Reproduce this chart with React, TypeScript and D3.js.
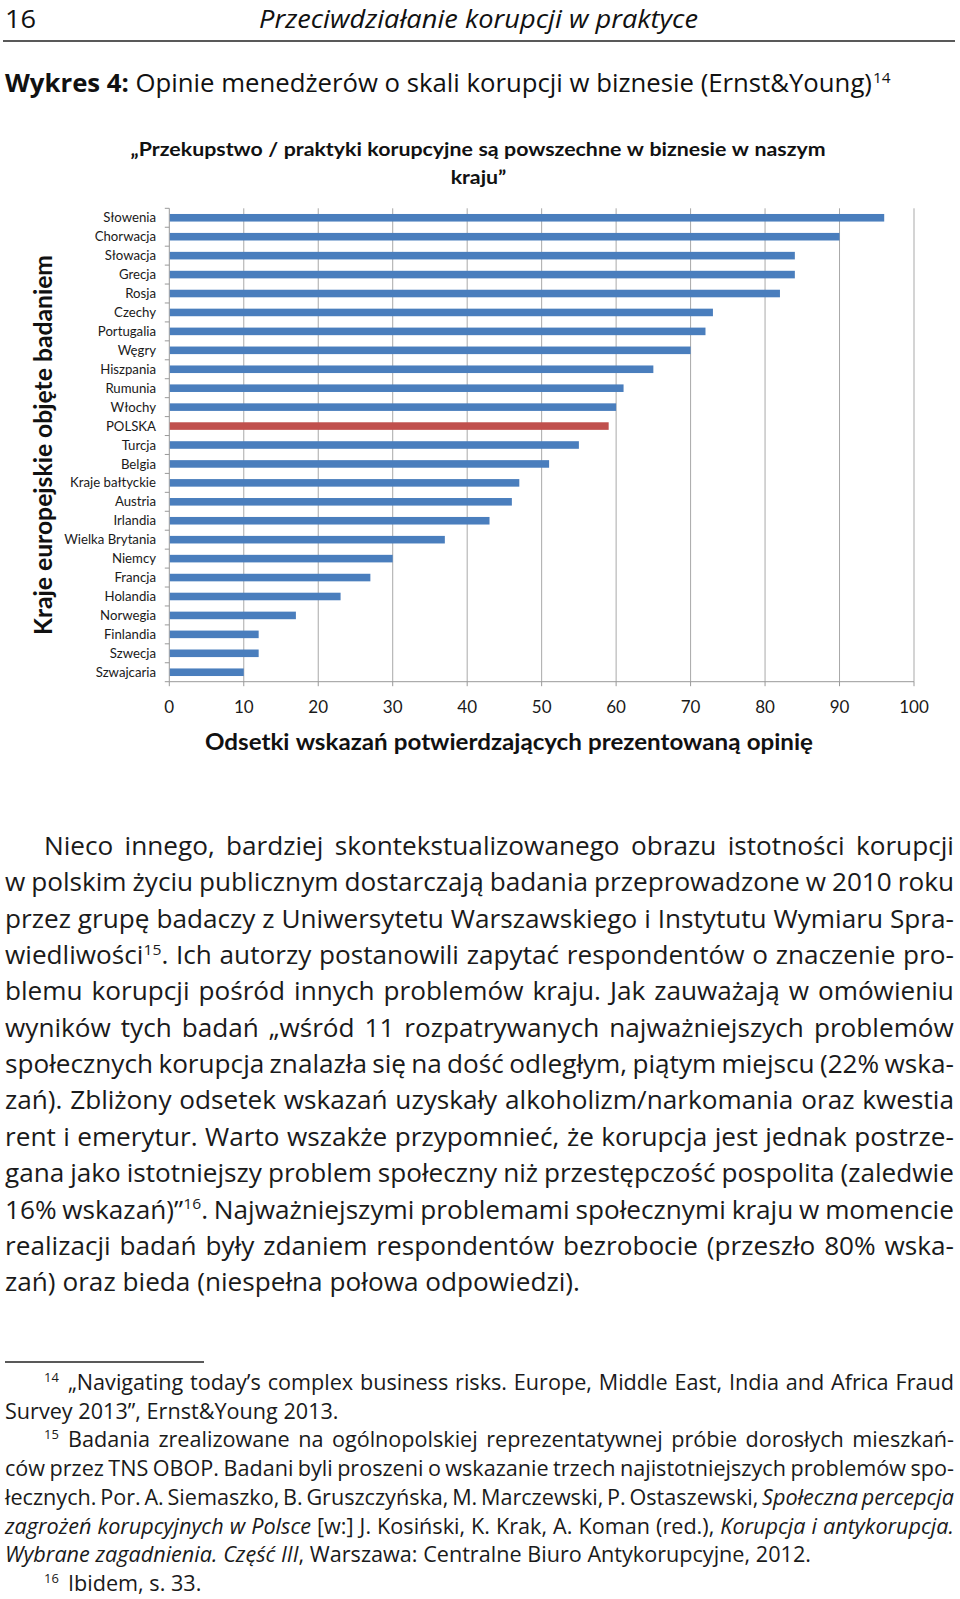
import React, { useEffect, useRef } from "react";
import * as d3 from "d3";

// ---------- DATA ----------
const countries = [
  "Słowenia", "Chorwacja", "Słowacja", "Grecja", "Rosja", "Czechy", "Portugalia",
  "Węgry", "Hiszpania", "Rumunia", "Włochy", "POLSKA", "Turcja", "Belgia",
  "Kraje bałtyckie", "Austria", "Irlandia", "Wielka Brytania", "Niemcy", "Francja",
  "Holandia", "Norwegia", "Finlandia", "Szwecja", "Szwajcaria",
];
const values = [96, 90, 84, 84, 82, 73, 72, 70, 65, 61, 60, 59, 55, 51, 47, 46, 43, 37, 30, 27, 23, 17, 12, 12, 10];
const highlightCountry = "POLSKA";
const xTicks = [0, 10, 20, 30, 40, 50, 60, 70, 80, 90, 100];
const chartTitle = ["„Przekupstwo / praktyki korupcyjne są powszechne w biznesie w naszym", "kraju”"];
const yTitle = "Kraje europejskie objęte badaniem";
const xTitle = "Odsetki wskazań potwierdzających prezentowaną opinię";

type Seg = { t: string; i?: boolean; b?: boolean; sup?: boolean };

const pageNumber = "16";
const runningHead = "Przeciwdziałanie korupcji w praktyce";
const figureCaption: Seg[] = [
  { t: "Wykres 4:", b: true },
  { t: " Opinie menedżerów o skali korupcji w biznesie (Ernst&Young)" },
];
const figureCaptionNote = "14";

const bodyLines: Seg[][] = [
  [{ t: "Nieco innego, bardziej skontekstualizowanego obrazu istotności korupcji" }],
  [{ t: "w polskim życiu publicznym dostarczają badania przeprowadzone w 2010 roku" }],
  [{ t: "przez grupę badaczy z Uniwersytetu Warszawskiego i Instytutu Wymiaru Spra-" }],
  [{ t: "wiedliwości" }, { t: "15", sup: true }, { t: ". Ich autorzy postanowili zapytać respondentów o znaczenie pro-" }],
  [{ t: "blemu korupcji pośród innych problemów kraju. Jak zauważają w omówieniu" }],
  [{ t: "wyników tych badań „wśród 11 rozpatrywanych najważniejszych problemów" }],
  [{ t: "społecznych korupcja znalazła się na dość odległym, piątym miejscu (22% wska-" }],
  [{ t: "zań). Zbliżony odsetek wskazań uzyskały alkoholizm/narkomania oraz kwestia" }],
  [{ t: "rent i emerytur. Warto wszakże przypomnieć, że korupcja jest jednak postrze-" }],
  [{ t: "gana jako istotniejszy problem społeczny niż przestępczość pospolita (zaledwie" }],
  [{ t: "16% wskazań)”" }, { t: "16", sup: true }, { t: ". Najważniejszymi problemami społecznymi kraju w momencie" }],
  [{ t: "realizacji badań były zdaniem respondentów bezrobocie (przeszło 80% wska-" }],
  [{ t: "zań) oraz bieda (niespełna połowa odpowiedzi)." }],
];

type FootLine = { note?: string; segs: Seg[]; indent: boolean; justify: boolean };
const footLines: FootLine[] = [
  { note: "14", indent: true, justify: true, segs: [{ t: "„Navigating today’s complex business risks. Europe, Middle East, India and Africa Fraud" }] },
  { indent: false, justify: false, segs: [{ t: "Survey 2013”, Ernst&Young 2013." }] },
  { note: "15", indent: true, justify: true, segs: [{ t: "Badania zrealizowane na ogólnopolskiej reprezentatywnej próbie dorosłych mieszkań-" }] },
  { indent: false, justify: true, segs: [{ t: "ców przez TNS OBOP. Badani byli proszeni o wskazanie trzech najistotniejszych problemów spo-" }] },
  { indent: false, justify: true, segs: [{ t: "łecznych. Por. A. Siemaszko, B. Gruszczyńska, M. Marczewski, P. Ostaszewski, " }, { t: "Społeczna percepcja", i: true }] },
  { indent: false, justify: true, segs: [{ t: "zagrożeń korupcyjnych w Polsce", i: true }, { t: " [w:] J. Kosiński, K. Krak, A. Koman (red.), " }, { t: "Korupcja i antykorupcja.", i: true }] },
  { indent: false, justify: false, segs: [{ t: "Wybrane zagadnienia. Część III", i: true }, { t: ", Warszawa: Centralne Biuro Antykorupcyjne, 2012." }] },
  { note: "16", indent: true, justify: false, segs: [{ t: "Ibidem, s. 33." }] },
];

// ---------- HELPERS ----------
const TEXT_FONT = "'Open Sans', 'DejaVu Sans', sans-serif";
const CHART_FONT = "Lato, 'Open Sans', sans-serif";

type Sel = d3.Selection<SVGSVGElement, unknown, null, undefined>;

function measure(svg: Sel, p: Seg, size: number, font: string): number {
  const t = svg
    .append("text")
    .attr("font-family", font)
    .attr("font-size", p.sup ? size * 0.6 : size)
    .attr("font-style", p.i ? "italic" : "normal")
    .attr("font-weight", p.b ? "bold" : "normal")
    .text(p.t);
  const w = (t.node() as SVGTextElement).getComputedTextLength();
  t.remove();
  return w;
}

function toWords(segs: Seg[]): Seg[][] {
  const words: Seg[][] = [];
  let cur: Seg[] = [];
  for (const s of segs) {
    const parts = s.t.split(" ");
    parts.forEach((p, i) => {
      if (i > 0) {
        if (cur.length) words.push(cur);
        cur = [];
      }
      if (p) cur.push({ ...s, t: p });
    });
  }
  if (cur.length) words.push(cur);
  return words;
}

function spaceW(svg: Sel, size: number, font: string) {
  return measure(svg, { t: "x x" }, size, font) - measure(svg, { t: "xx" }, size, font);
}

function naturalWidth(svg: Sel, segs: Seg[], size: number, font: string) {
  const words = toWords(segs);
  const total = d3.sum(words, (w) => d3.sum(w, (p) => measure(svg, p, size, font)));
  return total + spaceW(svg, size, font) * (words.length - 1);
}

function drawLine(
  svg: Sel,
  segs: Seg[],
  o: { x0: number; x1: number; y: number; size: number; font: string; k: number; justify: boolean; fill?: string }
) {
  const words = toWords(segs);
  const widths = words.map((w) => w.map((p) => measure(svg, p, o.size, o.font)));
  const wordW = widths.map((a) => d3.sum(a));
  const total = d3.sum(wordW);
  const sp = spaceW(svg, o.size, o.font);
  const n = words.length;
  const avail = o.x1 - o.x0;
  let kk = o.k;
  let gap = sp;
  if (o.justify && n > 1) {
    const minNat = total + sp * 0.55 * (n - 1);
    if (minNat * kk > avail) kk = avail / minNat;
    gap = (avail / kk - total) / (n - 1);
  }
  const g = svg.append("g").attr("transform", `translate(${o.x0},${o.y}) scale(${kk},1)`);
  let x = 0;
  words.forEach((w, wi) => {
    w.forEach((p, pi) => {
      g.append("text")
        .attr("x", x)
        .attr("y", p.sup ? -o.size * 0.38 : 0)
        .attr("font-family", o.font)
        .attr("font-size", p.sup ? o.size * 0.6 : o.size)
        .attr("font-style", p.i ? "italic" : "normal")
        .attr("font-weight", p.b ? "bold" : "normal")
        .attr("fill", o.fill || "#1a1a1a")
        .text(p.t);
      x += widths[wi][pi];
    });
    x += gap;
  });
  return o.x0 + (x - gap) * kk;
}

// ---------- COMPONENT ----------
export default function App() {
  const ref = useRef<SVGSVGElement | null>(null);

  useEffect(() => {
    const svg = d3.select(ref.current as SVGSVGElement) as Sel;
    svg.selectAll("*").remove();

    svg.append("rect").attr("width", 960).attr("height", 1599).attr("fill", "#fff");

    // ---- Running head ----
    const headSize = 25;
    const kHead = 439 / naturalWidth(svg, [{ t: runningHead, i: true }], headSize, TEXT_FONT);
    drawLine(svg, [{ t: pageNumber }], { x0: 5, x1: 40, y: 27.5, size: headSize, font: TEXT_FONT, k: kHead, justify: false, fill: "#111" });
    drawLine(svg, [{ t: runningHead, i: true }], { x0: 259, x1: 700, y: 27.5, size: headSize, font: TEXT_FONT, k: kHead, justify: false, fill: "#111" });
    svg.append("line").attr("x1", 3).attr("x2", 955).attr("y1", 41).attr("y2", 41).attr("stroke", "#222").attr("stroke-width", 1.5);

    // ---- Figure caption ----
    const kCap = 867 / naturalWidth(svg, figureCaption, headSize, TEXT_FONT);
    const capEnd = drawLine(svg, figureCaption, { x0: 5, x1: 880, y: 92, size: headSize, font: TEXT_FONT, k: kCap, justify: false, fill: "#111" });
    drawLine(svg, [{ t: figureCaptionNote, sup: true }], { x0: capEnd + 1, x1: 900, y: 92, size: headSize, font: TEXT_FONT, k: kCap, justify: false, fill: "#111" });

    // ---- Chart ----
    const x = d3.scaleLinear().domain([0, 100]).range([169.3, 914]);
    const y = d3.scaleBand<string>().domain(countries).range([208.3, 681.7]).paddingInner(0.6).paddingOuter(0.3);
    const [top, bottom] = [208.3, 681.7];

    const chart = svg.append("g");
    // gridlines
    chart
      .selectAll("line.grid")
      .data(xTicks.filter((d) => d > 0))
      .join("line")
      .attr("x1", (d) => x(d))
      .attr("x2", (d) => x(d))
      .attr("y1", top)
      .attr("y2", bottom)
      .attr("stroke", "#a9a9a9")
      .attr("stroke-width", 1);
    // axis lines
    chart.append("line").attr("x1", x(0)).attr("x2", x(0)).attr("y1", top).attr("y2", bottom).attr("stroke", "#999").attr("stroke-width", 1);
    chart.append("line").attr("x1", x(0)).attr("x2", x(100)).attr("y1", bottom).attr("y2", bottom).attr("stroke", "#999").attr("stroke-width", 1);
    // left ticks at band boundaries
    const step = y.step();
    const bounds = d3.range(countries.length + 1).map((i) => top + i * step);
    chart
      .selectAll("line.ytick")
      .data(bounds)
      .join("line")
      .attr("x1", x(0) - 4.5)
      .attr("x2", x(0))
      .attr("y1", (d) => d)
      .attr("y2", (d) => d)
      .attr("stroke", "#999");
    // bottom ticks
    chart
      .selectAll("line.xtick")
      .data(xTicks)
      .join("line")
      .attr("x1", (d) => x(d))
      .attr("x2", (d) => x(d))
      .attr("y1", bottom)
      .attr("y2", bottom + 4.5)
      .attr("stroke", "#999");
    // bars
    chart
      .selectAll("rect.bar")
      .data(countries.map((c, i) => ({ c, v: values[i] })))
      .join("rect")
      .attr("x", x(0) + 0.5)
      .attr("y", (d) => y(d.c) as number)
      .attr("width", (d) => x(d.v) - x(0) - 0.5)
      .attr("height", y.bandwidth())
      .attr("fill", (d) => (d.c === highlightCountry ? "#c0504d" : "#4a7ebd"));
    // category labels
    chart
      .selectAll("text.cat")
      .data(countries)
      .join("text")
      .attr("x", 156)
      .attr("y", (d) => (y(d) as number) + y.bandwidth() / 2 + 4.6)
      .attr("text-anchor", "end")
      .attr("font-family", CHART_FONT)
      .attr("font-size", 13.2)
      .attr("fill", "#1a1a1a")
      .text((d) => d);
    // x tick labels
    chart
      .selectAll("text.xt")
      .data(xTicks)
      .join("text")
      .attr("x", (d) => x(d))
      .attr("y", 713)
      .attr("text-anchor", "middle")
      .attr("font-family", CHART_FONT)
      .attr("font-size", 17)
      .attr("fill", "#1a1a1a")
      .text((d) => String(d));

    // chart title
    const tSize = 19.5;
    const kT = 695 / naturalWidth(svg, [{ t: chartTitle[0], b: true }], tSize, CHART_FONT);
    drawLine(svg, [{ t: chartTitle[0], b: true }], { x0: 130.6, x1: 830, y: 156, size: tSize, font: CHART_FONT, k: kT, justify: false, fill: "#111" });
    const w2 = naturalWidth(svg, [{ t: chartTitle[1], b: true }], tSize, CHART_FONT) * kT;
    drawLine(svg, [{ t: chartTitle[1], b: true }], { x0: 478.5 - w2 / 2, x1: 600, y: 184, size: tSize, font: CHART_FONT, k: kT, justify: false, fill: "#111" });

    // x title
    const xtSize = 23;
    const kX = 608 / naturalWidth(svg, [{ t: xTitle, b: true }], xtSize, CHART_FONT);
    drawLine(svg, [{ t: xTitle, b: true }], { x0: 205, x1: 820, y: 750, size: xtSize, font: CHART_FONT, k: kX, justify: false, fill: "#111" });

    // y title (rotated)
    const ytSize = 24.5;
    const yw = measure(svg, { t: yTitle, b: true }, ytSize, CHART_FONT);
    svg
      .append("text")
      .attr("transform", `translate(52,445) rotate(-90)`)
      .attr("text-anchor", "middle")
      .attr("font-family", CHART_FONT)
      .attr("font-size", ytSize)
      .attr("font-weight", "bold")
      .attr("fill", "#111")
      .attr("textLength", 380)
      .attr("lengthAdjust", "spacingAndGlyphs")
      .attr("data-w", yw)
      .text(yTitle);

    // ---- Body text ----
    const bSize = 25;
    const kB = 575 / naturalWidth(svg, bodyLines[bodyLines.length - 1], bSize, TEXT_FONT);
    bodyLines.forEach((segs, i) => {
      const last = i === bodyLines.length - 1;
      drawLine(svg, segs, {
        x0: i === 0 ? 44 : 5,
        x1: 954,
        y: 855 + i * 36.35,
        size: bSize,
        font: TEXT_FONT,
        k: kB,
        justify: !last,
      });
    });

    // ---- Footnotes ----
    svg.append("line").attr("x1", 5).attr("x2", 204).attr("y1", 1362).attr("y2", 1362).attr("stroke", "#222").attr("stroke-width", 1.3);
    const fSize = 21;
    const kF = 806 / naturalWidth(svg, footLines[6].segs, fSize, TEXT_FONT);
    footLines.forEach((fl, i) => {
      const yy = 1390 + i * 28.7;
      if (fl.note) {
        drawLine(svg, [{ t: fl.note, sup: true }], { x0: 44, x1: 70, y: yy, size: fSize, font: TEXT_FONT, k: kF, justify: false });
      }
      drawLine(svg, fl.segs, {
        x0: fl.indent ? 68 : 5,
        x1: 954,
        y: yy,
        size: fSize,
        font: TEXT_FONT,
        k: kF,
        justify: fl.justify,
      });
    });
  }, []);

  return (
    <svg
      ref={ref}
      width={960}
      height={1599}
      viewBox="0 0 960 1599"
      style={{ position: "absolute", left: 0, top: 0, display: "block" }}
    />
  );
}
